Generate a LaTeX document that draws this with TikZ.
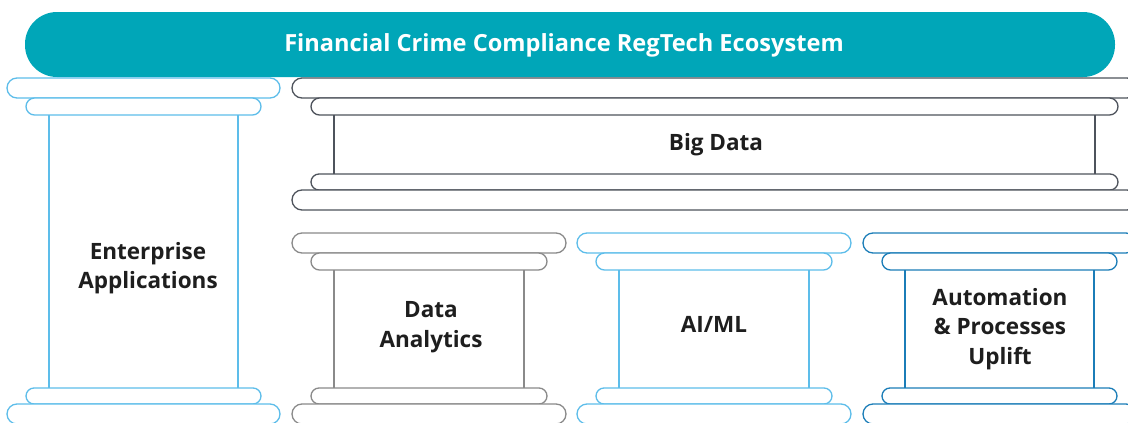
\documentclass[tikz,border=0pt]{standalone}
\usepackage{fontspec}
\setmainfont{Open Sans}
\definecolor{teal}{HTML}{00A6B8}
\definecolor{lblue}{HTML}{5DBDEA}
\definecolor{dgray}{HTML}{4E535C}
\definecolor{mgray}{HTML}{8A8A8A}
\definecolor{dblue}{HTML}{1B7DB8}
\definecolor{txt}{HTML}{1E1E1E}
\newcommand{\pillar}[5]{% L, W, T, B, color
  \draw[#5,line width=1.3pt,fill=white,rounded corners=10pt] (#1,#3) rectangle ({#1+#2},{#3+20});
  \draw[#5,line width=1.3pt,fill=white,rounded corners=8.5pt] ({#1+19},{#3+20}) rectangle ({#1+#2-19},{#3+37});
  \draw[#5,line width=1.3pt] ({#1+42},{#3+37}) -- ({#1+42},#4) ({#1+#2-42},{#3+37}) -- ({#1+#2-42},#4);
  \draw[#5,line width=1.3pt,fill=white,rounded corners=8pt] ({#1+19},#4) rectangle ({#1+#2-19},{#4+16});
  \draw[#5,line width=1.3pt,fill=white,rounded corners=10pt] (#1,{#4+16}) rectangle ({#1+#2},{#4+36});
}
\begin{document}
\begin{tikzpicture}[x=1pt,y=-1pt,
  lbl/.style={font=\bfseries\fontsize{22.5}{29.5}\selectfont,text=txt,align=center,inner sep=0pt}]
\clip (0,0) rectangle (1128,423);
\fill[white] (0,0) rectangle (1128,423);
\fill[teal,rounded corners=32pt] (25,12) rectangle (1115,77);
\node[font=\bfseries\fontsize{23.6}{28}\selectfont,text=white,inner sep=0pt] (title) at (564,45) {Financial Crime Compliance RegTech Ecosystem};
\pillar{7}{273}{78}{388}{lblue}
\pillar{292}{845}{78}{174}{dgray}
\pillar{292}{274}{233}{388}{mgray}
\pillar{577}{274}{233}{388}{lblue}
\pillar{863}{273}{233}{388}{dblue}
\node[lbl] (ent) at (148,268) {Enterprise\\Applications};
\node[lbl] (big) at (716,145) {Big Data};
\node[lbl] (da) at (431,327) {Data\\Analytics};
\node[lbl] (ai) at (714,324) {AI/ML};
\node[lbl] (auto) at (1000,329) {Automation\\\& Processes\\Uplift};
\end{tikzpicture}
\end{document}
